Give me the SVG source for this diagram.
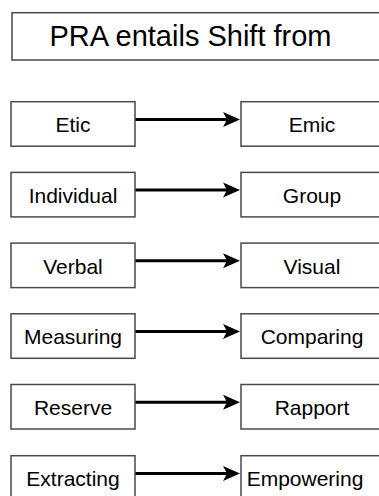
<svg xmlns="http://www.w3.org/2000/svg" width="379" height="496" viewBox="0 0 379 496">
<style>
.box{fill:#ffffff;stroke:#4a4a4a;stroke-width:1.5}
.t{font-family:"Liberation Sans",Arial,sans-serif;font-size:21px;fill:#000;text-anchor:middle}
.title{font-family:"Liberation Sans",Arial,sans-serif;font-size:29px;fill:#000;text-anchor:middle}
.conn{stroke:#000;stroke-width:3;fill:none}
</style>
<defs>
<marker id="ah" markerUnits="userSpaceOnUse" markerWidth="18" markerHeight="16" viewBox="0 0 18 16" refX="5" refY="8" orient="auto">
<path d="M0,0.5 L17,8 L0,15.5 L4,8 Z" fill="#000"/>
</marker>
</defs>
<rect width="379" height="496" fill="#ffffff"/>
<g id="title">
<rect class="box" x="12" y="12.7" width="380" height="47.3"/>
<text class="title" x="190.5" y="45.5">PRA entails Shift from</text>
</g>
<g id="etic"><rect class="box" x="11" y="101.7" width="124" height="44.5"/><text class="t" x="73" y="132.2">Etic</text></g>
<g id="emic"><rect class="box" x="241" y="101.7" width="150" height="44.5"/><text class="t" x="312" y="132.2">Emic</text></g>
<g id="individual"><rect class="box" x="11" y="172.4" width="124" height="44.5"/><text class="t" x="73" y="202.9">Individual</text></g>
<g id="group"><rect class="box" x="241" y="172.4" width="150" height="44.5"/><text class="t" x="312" y="202.9">Group</text></g>
<g id="verbal"><rect class="box" x="11" y="243.1" width="124" height="44.5"/><text class="t" x="73" y="273.6">Verbal</text></g>
<g id="visual"><rect class="box" x="241" y="243.1" width="150" height="44.5"/><text class="t" x="312" y="273.6">Visual</text></g>
<g id="measuring"><rect class="box" x="11" y="313.8" width="124" height="44.5"/><text class="t" x="73" y="344.3">Measuring</text></g>
<g id="comparing"><rect class="box" x="241" y="313.8" width="150" height="44.5"/><text class="t" x="312" y="344.3">Comparing</text></g>
<g id="reserve"><rect class="box" x="11" y="384.5" width="124" height="44.5"/><text class="t" x="73" y="415">Reserve</text></g>
<g id="rapport"><rect class="box" x="241" y="384.5" width="150" height="44.5"/><text class="t" x="312" y="415">Rapport</text></g>
<g id="extracting"><rect class="box" x="11" y="455.7" width="124" height="44.5"/><text class="t" x="73" y="486.2">Extracting</text></g>
<g id="empowering"><rect class="box" x="241" y="455.7" width="150" height="44.5"/><text class="t" x="305" y="486.2">Empowering</text></g>
<g id="connectors">
<line class="conn" x1="135.5" y1="119.4" x2="228" y2="119.4" marker-end="url(#ah)"/>
<line class="conn" x1="135.5" y1="190.1" x2="228" y2="190.1" marker-end="url(#ah)"/>
<line class="conn" x1="135.5" y1="260.8" x2="228" y2="260.8" marker-end="url(#ah)"/>
<line class="conn" x1="135.5" y1="331.5" x2="228" y2="331.5" marker-end="url(#ah)"/>
<line class="conn" x1="135.5" y1="402.2" x2="228" y2="402.2" marker-end="url(#ah)"/>
<line class="conn" x1="135.5" y1="473.4" x2="228" y2="473.4" marker-end="url(#ah)"/>
</g>
</svg>
